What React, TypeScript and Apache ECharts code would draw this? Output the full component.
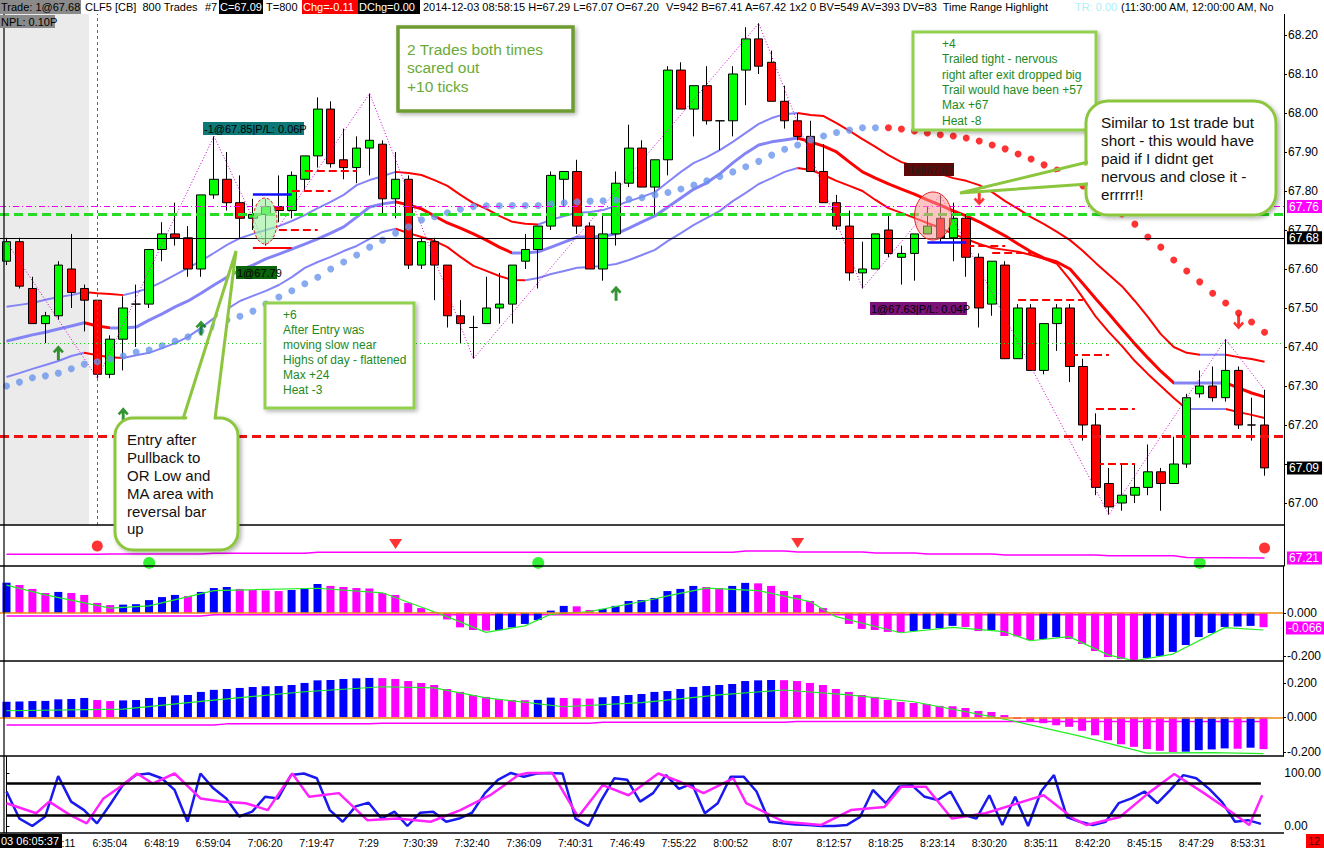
import React, { useEffect, useRef } from "react";
import * as echarts from "echarts";

// ---------------- DATA ----------------
const OPEN = [67.62,67.67,67.55,67.46,67.48,67.60,67.55,67.52,67.33,67.42,
 67.51,67.51,67.65,67.69,67.68,67.60,67.79,67.83,67.77,67.73,
 67.74,67.76,67.75,67.83,67.89,68.01,67.88,67.86,67.91,67.92,
 67.78,67.83,67.61,67.67,67.61,67.48,67.45,67.46,67.50,67.51,
 67.62,67.65,67.71,67.83,67.85,67.71,67.60,67.69,67.82,67.91,
 67.81,67.88,68.11,68.01,68.07,67.98,67.98,68.11,68.19,68.13,
 68.03,67.98,67.94,67.85,67.77,67.71,67.59,67.60,67.70,67.63,
 67.64,67.69,67.73,67.68,67.73,67.63,67.51,67.61,67.37,67.50,
 67.34,67.46,67.50,67.35,67.20,67.05,67.00,67.02,67.04,67.08,
 67.05,67.10,67.28,67.30,67.27,67.34,67.20,67.20];
const CLOSE = [67.67,67.556,67.46,67.48,67.61,67.54,67.52,67.33,67.42,67.50,
 67.51,67.65,67.69,67.68,67.60,67.79,67.83,67.77,67.73,67.74,
 67.76,67.75,67.84,67.89,68.01,67.87,67.86,67.91,67.93,67.78,
 67.83,67.61,67.67,67.61,67.48,67.46,67.45,67.50,67.51,67.61,
 67.65,67.71,67.84,67.85,67.71,67.60,67.69,67.82,67.91,67.81,
 67.88,68.11,68.01,68.07,67.98,67.98,68.10,68.19,68.12,68.03,
 67.98,67.94,67.85,67.77,67.71,67.59,67.60,67.69,67.64,67.64,
 67.69,67.71,67.68,67.73,67.63,67.50,67.62,67.37,67.50,67.34,
 67.46,67.50,67.35,67.20,67.04,66.99,67.02,67.04,67.08,67.05,
 67.10,67.27,67.30,67.27,67.34,67.20,67.20,67.09];
const HIGH = [67.68,67.68,67.58,67.49,67.62,67.69,67.56,67.52,67.43,67.53,
 67.56,67.65,67.72,67.77,67.71,67.79,67.94,67.90,67.84,67.78,
 67.78,67.84,67.85,67.89,68.04,68.03,67.96,67.94,68.05,67.93,
 67.90,67.84,67.68,67.68,67.61,67.52,67.48,67.58,67.59,67.61,
 67.69,67.71,67.85,67.85,67.88,67.72,67.74,67.85,67.97,67.93,
 67.88,68.12,68.13,68.07,68.12,67.98,68.12,68.22,68.23,68.16,
 68.07,68.00,67.98,67.92,67.79,67.75,67.67,67.69,67.74,67.66,
 67.69,67.76,67.79,67.77,67.74,67.64,67.62,67.62,67.51,67.51,
 67.46,67.51,67.51,67.37,67.23,67.09,67.10,67.10,67.15,67.09,
 67.17,67.28,67.34,67.35,67.42,67.35,67.27,67.29];
const LOW = [67.61,67.55,67.46,67.41,67.47,67.50,67.44,67.32,67.32,67.34,
 67.40,67.50,67.62,67.66,67.58,67.58,67.78,67.75,67.68,67.70,
 67.66,67.72,67.73,67.80,67.86,67.86,67.83,67.82,67.84,67.74,
 67.73,67.60,67.60,67.52,67.45,67.41,67.37,67.46,67.46,67.46,
 67.60,67.55,67.70,67.76,67.69,67.60,67.57,67.66,67.81,67.81,
 67.74,67.84,68.01,67.94,67.97,67.905,67.94,68.02,68.10,68.03,
 67.96,67.93,67.85,67.77,67.70,67.57,67.55,67.60,67.63,67.56,
 67.57,67.69,67.67,67.62,67.58,67.45,67.48,67.37,67.37,67.34,
 67.33,67.39,67.31,67.16,67.02,66.97,66.98,67.00,67.02,66.98,
 67.05,67.09,67.27,67.26,67.26,67.19,67.16,67.07];

const BAND_UPPER = [67.503,67.508,67.513,67.521,67.528,67.533,67.541,67.538,67.536,67.533,
 67.541,67.551,67.567,67.585,67.603,67.621,67.641,67.662,67.679,67.690,
 67.700,67.710,67.723,67.738,67.756,67.772,67.790,67.815,67.828,67.838,
 67.849,67.846,67.841,67.828,67.813,67.790,67.769,67.754,67.736,67.721,
 67.716,67.714,67.726,67.736,67.744,67.746,67.751,67.762,67.774,67.785,
 67.797,67.823,67.849,67.872,67.887,67.905,67.926,67.949,67.972,67.987,
 67.997,68.000,67.995,67.992,67.974,67.954,67.933,67.913,67.892,67.874,
 67.864,67.856,67.844,67.833,67.826,67.815,67.797,67.774,67.754,67.733,
 67.715,67.695,67.674,67.646,67.615,67.585,67.556,67.518,67.477,67.433,
 67.400,67.385,67.380,67.380,67.380,67.374,67.369,67.362];
const BAND_MID = [67.415,67.423,67.431,67.438,67.446,67.454,67.462,67.454,67.449,67.449,
 67.451,67.469,67.485,67.503,67.518,67.538,67.559,67.579,67.597,67.610,
 67.626,67.638,67.651,67.664,67.677,67.692,67.708,67.733,67.759,67.767,
 67.772,67.764,67.754,67.736,67.718,67.705,67.690,67.674,67.656,67.641,
 67.641,67.644,67.656,67.669,67.682,67.682,67.684,67.690,67.705,67.721,
 67.736,67.759,67.782,67.805,67.821,67.844,67.872,67.897,67.918,67.926,
 67.931,67.936,67.926,67.915,67.900,67.874,67.849,67.833,67.818,67.805,
 67.792,67.777,67.764,67.749,67.736,67.721,67.703,67.685,67.664,67.644,
 67.628,67.618,67.600,67.562,67.523,67.485,67.446,67.408,67.372,67.338,
 67.308,67.308,67.308,67.308,67.308,67.295,67.282,67.272];
const BAND_LOW = [67.323,67.333,67.344,67.354,67.364,67.377,67.385,67.379,67.374,67.372,
 67.379,67.385,67.397,67.410,67.426,67.449,67.474,67.497,67.518,67.531,
 67.544,67.559,67.579,67.603,67.618,67.631,67.646,67.659,67.677,67.695,
 67.703,67.692,67.682,67.672,67.656,67.631,67.608,67.595,67.582,67.572,
 67.571,67.577,67.587,67.595,67.603,67.605,67.608,67.613,67.623,67.636,
 67.649,67.672,67.692,67.713,67.731,67.749,67.774,67.795,67.818,67.833,
 67.849,67.859,67.854,67.841,67.826,67.813,67.800,67.777,67.756,67.744,
 67.731,67.718,67.705,67.690,67.677,67.664,67.654,67.649,67.644,67.636,
 67.626,67.613,67.572,67.526,67.477,67.438,67.403,67.364,67.331,67.300,
 67.269,67.241,67.241,67.241,67.241,67.233,67.226,67.218];

const SAR = [67.300,67.310,67.321,67.326,67.333,67.344,67.356,67.362,67.369,67.377,
 67.387,67.392,67.403,67.415,67.426,67.441,67.451,67.469,67.479,67.492,
 67.510,67.528,67.544,67.562,67.579,67.600,67.618,67.636,67.656,67.674,
 67.692,67.708,67.726,67.734,67.744,67.753,67.760,67.762,67.762,67.763,
 67.763,67.763,67.767,67.770,67.772,67.774,67.775,67.777,67.779,67.783,
 67.790,67.796,67.805,67.815,67.826,67.837,67.849,67.862,67.876,67.892,
 67.907,67.918,67.931,67.941,67.950,67.956,67.962,67.962,67.962,67.959,
 67.954,67.949,67.944,67.941,67.936,67.928,67.918,67.908,67.895,67.882,
 67.867,67.854,67.833,67.813,67.790,67.767,67.741,67.715,67.682,67.656,
 67.623,67.595,67.567,67.538,67.513,67.487,67.464,67.438];
const SAR_FLIP = 68;

const ZIGZAG = [[0,67.67],[7,67.32],[16,67.94],[20,67.66],[28,68.05],[36,67.37],[58,68.23],[66,67.55],[72,67.79],[85,66.97],[94,67.42],[97,67.29]];
const SWING_HIGH_LABELS = [[16,67.975,"HH"],[28,68.085,"HH"],[58,68.256,"HH"],[72,67.82,"LH"],[94,67.449,"LH"]];
const SWING_LOW_LABELS = [[7,67.277,"HL"],[22,67.682,"HL"],[36,67.341,"LL"],[66,67.51,"HL"]];
const ARROWS_UP = [[4,67.385],[9,67.226],[15,67.449],[47,67.538]];
const ARROWS_DOWN = [[75,67.782],[95,67.464]];

const LEVEL_LAST_TRADE = 67.68;
const LEVEL_OR_HIGH = 67.741;
const LEVEL_MAGENTA = 67.764;
const LEVEL_OR_LOW = 67.167;
const LEVEL_DOTTED = 67.41;
const TARGETS = [[23,27,67.851],[22,25,67.800],[21,24,67.700],[74,77,67.659],[76,79,67.641],[78,83,67.521],[82,85,67.379],[84,87,67.241],[84,87,67.100]];
const STOPS = [[19,22,67.654]];
const ENTRIES = [[19,22,67.792],[71,74,67.669]];

const PRICE_TICKS = [67.0,67.1,67.2,67.3,67.4,67.5,67.6,67.7,67.8,67.9,68.0,68.1,68.2];
const PRICE_LABELS = [67.0,67.2,67.3,67.4,67.5,67.6,67.7,67.8,67.9,68.0,68.1,68.2];
const TIME_TICKS = ["6:21:11","6:35:04","6:48:19","6:59:04","7:06:20","7:19:47","7:29","7:30:39","7:32:40","7:36:09","7:40:31","7:46:49","7:55:22","8:00:52","8:07","8:12:57","8:18:25","8:23:14","8:30:20","8:35:11","8:42:20","8:45:15","8:47:29","8:53:31"];

const P2_LINE = [[0,67.53],[7,67.53],[8,67.56],[15,67.56],[16,67.62],[23,67.62],[24,67.71],[56,67.71],[57,67.82],[60,67.82],[61,67.74],[66,67.74],[67,67.65],[70,67.65],[71,67.56],[76,67.56],[77,67.47],[84,67.47],[85,67.39],[90,67.39],[91,67.25],[97,67.21]];
const P2_LAST = 67.21;
const P2_SELL_DOTS = [[7,68.26],[97,68.09]];
const P2_DOWN_MARKS = [[30,68.44],[61,68.53]];
const P2_BUY_DOTS = [[11,66.77],[41,66.77],[92,66.77]];

const P3_HIST = [0.141,0.130,0.112,0.093,0.098,0.093,0.084,0.047,0.037,0.039,
 0.041,0.060,0.074,0.084,0.079,0.098,0.116,0.121,0.112,0.107,
 0.105,0.102,0.107,0.116,0.135,0.126,0.121,0.116,0.114,0.093,
 0.084,0.047,0.023,0.005,-0.030,-0.067,-0.079,-0.082,-0.080,-0.067,
 -0.051,-0.033,0.011,0.033,0.031,0.014,0.019,0.033,0.056,0.060,
 0.070,0.102,0.112,0.126,0.121,0.116,0.126,0.140,0.138,0.126,
 0.102,0.084,0.056,0.023,0.005,-0.051,-0.074,-0.079,-0.088,-0.090,
 -0.084,-0.074,-0.070,-0.060,-0.065,-0.084,-0.079,-0.107,-0.109,-0.126,
 -0.121,-0.112,-0.121,-0.144,-0.177,-0.205,-0.214,-0.219,-0.209,-0.200,
 -0.181,-0.149,-0.112,-0.093,-0.065,-0.063,-0.060,-0.066];
const P3_SIGNAL = [[0,0.13],[3,0.084],[8,0.023],[11,0.033],[16,0.104],[24,0.115],[29,0.094],[32,0.028],[34,-0.017],[37,-0.09],[40,-0.06],[42,-0.006],[45,0.006],[50,0.065],[51,0.08],[54,0.116],[58,0.104],[62,0.053],[64,-0.017],[69,-0.092],[73,-0.067],[77,-0.087],[79,-0.129],[82,-0.11],[85,-0.195],[87,-0.222],[90,-0.191],[94,-0.068],[97,-0.079]];
const P3_REF = [[0,-0.014],[15,-0.014],[16,-0.008],[97,-0.008]];
const P3_LAST = -0.066;

const P4_HIST = [0.090,0.092,0.094,0.095,0.104,0.106,0.112,0.100,0.094,0.098,
 0.100,0.112,0.118,0.127,0.129,0.147,0.159,0.164,0.170,0.176,
 0.180,0.181,0.187,0.199,0.214,0.216,0.222,0.226,0.228,0.227,
 0.222,0.210,0.199,0.187,0.164,0.147,0.129,0.118,0.106,0.100,
 0.099,0.101,0.114,0.112,0.110,0.108,0.116,0.123,0.129,0.135,
 0.147,0.152,0.164,0.176,0.181,0.187,0.193,0.210,0.214,0.216,
 0.215,0.210,0.199,0.187,0.164,0.147,0.129,0.118,0.100,0.089,
 0.083,0.077,0.066,0.064,0.054,0.037,0.031,0.013,-0.010,-0.025,
 -0.034,-0.046,-0.055,-0.078,-0.104,-0.133,-0.156,-0.171,-0.184,-0.194,
 -0.201,-0.199,-0.190,-0.186,-0.180,-0.182,-0.176,-0.184];
const P4_SIGNAL = [[0,0.038],[9,0.047],[16,0.1],[23,0.148],[29,0.177],[33,0.17],[37,0.112],[43,0.061],[49,0.085],[55,0.13],[60,0.158],[65,0.13],[70,0.09],[77,-0.01],[83,-0.112],[88,-0.207],[93,-0.205],[97,-0.21]];
const P4_REF = [[0,-0.044],[16,-0.044],[17,-0.038],[28,-0.038],[29,-0.034],[45,-0.034],[46,-0.028],[60,-0.028],[61,-0.024],[97,-0.024]];

const STOCH_K = [65,14,0,18,94,46,30,5,40,77, 96,99,90,68,8,99,71,52,18,27,
 55,52,96,99,90,30,8,37,44,14, 27,0,25,27,8,14,25,62,87,100,
 93,99,100,99,14,0,49,90,87,46, 62,96,70,80,24,43,93,93,65,8,
 5,3,2,0,0,2,17,68,43,74, 77,55,49,65,21,14,58,2,55,0,
 65,96,17,8,2,8,43,52,65,43, 68,96,90,70,45,8,11,4];
const STOCH_D = [[0,43],[2.3,24],[3.3,46],[4.9,21],[6.2,5],[7.5,52],[8.8,74],[10.1,99],[11.3,80],[13,99],[15,52],[16.6,46],[18.5,43],[20.2,30],[22.1,99],[23.4,55],[25.7,62],[27.9,11],[30.2,14],[32.8,8],[35.1,30],[37.4,58],[39.6,96],[40.3,100],[42.2,100],[44.2,17],[46.1,77],[48.1,58],[50.4,99],[52,84],[53.9,62],[56.2,90],[57.2,43],[58.8,24],[60.1,8],[63,2],[65.3,30],[67.9,36],[69.2,74],[71.1,74],[73.1,14],[75.7,24],[80.2,58],[82.5,14],[83.5,2],[86.1,17],[88.3,62],[90.3,98],[92.6,62],[94.5,30],[96.1,2],[97.1,58]];
const STOCH_LEVELS = [80, 20];

// ---------------- STYLE / LAYOUT ----------------
const FONT = '"Liberation Sans", Arial, sans-serif';
const GL = -2.5;
const GR = 40;
const SLOTS = 99;
const LAV = "#8484f6";
const RED = "#ff0000";
const HBLUE = "#0000ff";
const HMAG = "#ff00ff";

function slopePieces(vals: number[], up: string, dn: string) {
  const pieces: any[] = [];
  let start = 0;
  let cur = vals[1] >= vals[0] ? up : dn;
  for (let i = 2; i < vals.length; i++) {
    const c = vals[i] >= vals[i - 1] ? up : dn;
    if (c !== cur) {
      pieces.push(pieces.length === 0 ? { gte: start, lte: i - 1, color: cur } : { gt: start, lte: i - 1, color: cur });
      start = i - 1;
      cur = c;
    }
  }
  pieces.push(pieces.length === 0 ? { gte: start, lte: vals.length - 1, color: cur } : { gt: start, lte: vals.length - 1, color: cur });
  return pieces;
}

function histData(vals: number[]) {
  return vals.map((v, i) => ({
    value: v,
    itemStyle: { color: i === 0 || v >= vals[i - 1] ? HBLUE : HMAG },
  }));
}

function seg(a: number, b: number, p: number, color: string, type: string, width: number) {
  const ls = { color, type, width };
  return [{ coord: [a, p], lineStyle: ls }, { coord: [b, p], lineStyle: ls }];
}

function hlineLabel(text: string, bg: string) {
  return {
    show: true, position: "end", formatter: text, distance: 3,
    backgroundColor: bg, color: "#fff", padding: [1, 3, 0, 2],
    fontSize: 12, fontFamily: FONT,
  };
}

const ARROW_PATH = "path://M6 0 L12 6.5 L10 8.5 L7.6 6 L7.6 16 L4.4 16 L4.4 6 L2 8.5 L0 6.5 Z";

function txt(x: number, y: number, text: string, fill: string, size = 11, extra: any = {}) {
  return {
    type: "text", x, y, z: 110,
    style: { text, fill, fontSize: size, fontFamily: FONT, verticalAlign: "middle", align: "left", ...extra },
  };
}
function box(x: number, y: number, w: number, h: number, fill: string, z = 105) {
  return { type: "rect", z, shape: { x, y, width: w, height: h }, style: { fill } };
}

function buildOption() {
  const cats = Array.from({ length: SLOTS }, (_, i) => String(i));
  const grids = [
    { left: GL, right: GR, top: 14, height: 511 },
    { left: GL, right: GR, top: 525, height: 41 },
    { left: GL, right: GR, top: 566, height: 95 },
    { left: GL, right: GR, top: 661, height: 95 },
    { left: GL, right: GR, top: 756, height: 77 },
  ];
  const xAxes: any[] = grids.map((_, gi) => ({
    type: "category", gridIndex: gi, data: cats, boundaryGap: true,
    axisLine: { show: false }, axisTick: { show: false }, splitLine: { show: false },
    axisLabel: gi === 4 ? {
      show: true, interval: 0, color: "#000", fontSize: 10.5, fontFamily: FONT, margin: 4,
      formatter: (_v: string, idx: number) => (idx >= 4 && idx <= 96 && idx % 4 === 0 ? TIME_TICKS[idx / 4 - 1] : ""),
    } : { show: false },
  }));
  xAxes.push({ type: "value", gridIndex: 4, min: -0.5, max: SLOTS - 0.5, show: false });

  const yCommon = (gi: number, min: number, max: number, ticks: number[] | null, labels: number[] | null, dec: number) => ({
    type: "value", gridIndex: gi, position: "right", min, max,
    splitLine: { show: false },
    axisLine: { show: true, lineStyle: { color: "#000", width: 1 } },
    axisTick: ticks ? { show: true, customValues: ticks, length: 3, lineStyle: { color: "#000" } } : { show: false },
    axisLabel: labels ? {
      show: true, customValues: labels, color: "#000", fontSize: 12, fontFamily: FONT, margin: 4,
      formatter: (v: number) => v.toFixed(dec),
    } : { show: false },
  });
  const yAxes = [
    yCommon(0, 66.9436, 68.2538, PRICE_TICKS, PRICE_LABELS, 2),
    yCommon(1, 66.5, 70.1, null, null, 2),
    yCommon(2, -0.2233, 0.2186, [-0.2, 0], [-0.2, 0], 3),
    yCommon(3, -0.224, 0.326, [-0.2, 0, 0.2], [-0.2, 0, 0.2], 3),
    yCommon(4, -13.2, 132, [0, 100], [0, 100], 2),
  ];

  const bandSeries = (vals: number[], width: number) => ({
    type: "line", xAxisIndex: 0, yAxisIndex: 0, data: vals, showSymbol: false, symbol: "none",
    lineStyle: { width }, z: 2, silent: true,
  });

  const series: any[] = [
    bandSeries(BAND_UPPER, 2),
    bandSeries(BAND_MID, 3),
    bandSeries(BAND_LOW, 2),
    {
      type: "candlestick", xAxisIndex: 0, yAxisIndex: 0, barWidth: 9, z: 3,
      data: OPEN.map((o, i) => [o, CLOSE[i], LOW[i], HIGH[i]]),
      itemStyle: { color: "#00ff00", color0: RED, borderColor: "#000", borderColor0: "#000", borderWidth: 1 },
      markLine: {
        symbol: ["none", "none"], silent: true, animation: false,
        label: { show: false },
        data: [
          { xAxis: 7, lineStyle: { color: "#666", type: [3, 3], width: 1 }, label: { show: false } },
          { yAxis: LEVEL_DOTTED, lineStyle: { color: "#22cc22", type: [1, 3], width: 1 }, label: { show: false } },
          { yAxis: LEVEL_LAST_TRADE, lineStyle: { color: "#000", type: "solid", width: 1 }, label: hlineLabel(LEVEL_LAST_TRADE.toFixed(2), "#000") },
          { yAxis: LEVEL_MAGENTA, lineStyle: { color: "#ee00ee", type: [6, 3, 1, 3], width: 1 }, label: hlineLabel(LEVEL_MAGENTA.toFixed(2), "#ff00ff") },
          { yAxis: LEVEL_OR_HIGH, lineStyle: { color: "#22dd22", type: [9, 5], width: 3 }, label: { show: false } },
          { yAxis: LEVEL_OR_LOW, lineStyle: { color: "#ee1111", type: [9, 5], width: 3 }, label: { show: false } },
          { yAxis: CLOSE[CLOSE.length - 1], lineStyle: { color: "rgba(0,0,0,0)", width: 0 }, label: hlineLabel(CLOSE[CLOSE.length - 1].toFixed(2), "#000") },
          ...TARGETS.map(([a, b, p]) => seg(a, b, p, RED, "dashed", 2)),
          ...STOPS.map(([a, b, p]) => seg(a, b, p, RED, "solid", 2)),
          ...ENTRIES.map(([a, b, p]) => seg(a, b, p, "#1010ff", "solid", 2.5)),
        ],
      },
    },
    {
      type: "scatter", xAxisIndex: 0, yAxisIndex: 0, z: 4, symbolSize: 7, silent: true,
      data: SAR.map((v, i) => [i, v]).filter((d) => d[0] < SAR_FLIP),
      itemStyle: { color: "#6a95ec" },
    },
    {
      type: "scatter", xAxisIndex: 0, yAxisIndex: 0, z: 4, symbolSize: 7, silent: true,
      data: SAR.map((v, i) => [i, v]).filter((d) => d[0] >= SAR_FLIP),
      itemStyle: { color: RED },
    },
    {
      type: "line", xAxisIndex: 0, yAxisIndex: 0, z: 4, data: ZIGZAG, showSymbol: false, symbol: "none", silent: true,
      lineStyle: { color: "#d000d0", width: 1, type: [1, 2] },
    },
    {
      type: "scatter", xAxisIndex: 0, yAxisIndex: 0, z: 6, clip: false, symbolSize: 1, silent: true,
      itemStyle: { opacity: 0 },
      data: SWING_HIGH_LABELS.map(([i, p, t]) => ({ value: [i, p], name: t })),
      label: { show: true, position: "inside", formatter: "{b}", color: "#33ff22", fontSize: 12, fontFamily: FONT },
    },
    {
      type: "scatter", xAxisIndex: 0, yAxisIndex: 0, z: 6, clip: false, symbolSize: 1, silent: true,
      itemStyle: { opacity: 0 },
      data: SWING_LOW_LABELS.map(([i, p, t]) => ({ value: [i, p], name: t })),
      label: { show: true, position: "inside", formatter: "{b}", color: RED, fontSize: 12, fontFamily: FONT },
    },
    {
      type: "scatter", xAxisIndex: 0, yAxisIndex: 0, z: 5, symbol: ARROW_PATH, symbolSize: [11, 15], silent: true,
      data: ARROWS_UP, itemStyle: { color: "#007a00" },
    },
    {
      type: "scatter", xAxisIndex: 0, yAxisIndex: 0, z: 5, symbol: ARROW_PATH, symbolSize: [11, 15], symbolRotate: 180, silent: true,
      data: ARROWS_DOWN, itemStyle: { color: RED },
    },
    // panel 2
    {
      type: "line", xAxisIndex: 1, yAxisIndex: 1, data: P2_LINE, showSymbol: false, symbol: "none", silent: true,
      lineStyle: { color: "#ff00ff", width: 1.5 },
      markLine: {
        symbol: ["none", "none"], silent: true,
        data: [{ yAxis: P2_LAST, lineStyle: { color: "rgba(0,0,0,0)", width: 0 }, label: hlineLabel(P2_LAST.toFixed(2), "#ff00ff") }],
      },
    },
    { type: "scatter", xAxisIndex: 1, yAxisIndex: 1, data: P2_SELL_DOTS, symbolSize: 11, itemStyle: { color: RED }, silent: true },
    { type: "scatter", xAxisIndex: 1, yAxisIndex: 1, data: P2_DOWN_MARKS, symbol: "triangle", symbolRotate: 180, symbolSize: [13, 10], itemStyle: { color: RED }, silent: true },
    { type: "scatter", xAxisIndex: 1, yAxisIndex: 1, data: P2_BUY_DOTS, symbolSize: 12, itemStyle: { color: "#00ee00" }, clip: true, silent: true },
    // panel 3
    {
      type: "bar", xAxisIndex: 2, yAxisIndex: 2, barWidth: 8, data: histData(P3_HIST), silent: true,
      markLine: {
        symbol: ["none", "none"], silent: true,
        data: [
          { yAxis: 0, lineStyle: { color: "#ee8a10", type: "solid", width: 1.5 }, label: { show: false } },
          { yAxis: P3_LAST, lineStyle: { color: "rgba(0,0,0,0)", width: 0 }, label: hlineLabel(P3_LAST.toFixed(3), "#ff00ff") },
        ],
      },
    },
    { type: "line", xAxisIndex: 2, yAxisIndex: 2, data: P3_SIGNAL, showSymbol: false, symbol: "none", silent: true, z: 4, lineStyle: { color: "#22ee22", width: 1.2 } },
    { type: "line", xAxisIndex: 2, yAxisIndex: 2, data: P3_REF, showSymbol: false, symbol: "none", silent: true, z: 1, lineStyle: { color: "#ff00ff", width: 1.5 } },
    // panel 4
    {
      type: "bar", xAxisIndex: 3, yAxisIndex: 3, barWidth: 8, data: histData(P4_HIST), silent: true,
      markLine: {
        symbol: ["none", "none"], silent: true,
        data: [{ yAxis: 0, lineStyle: { color: "#ee8a10", type: "solid", width: 1.5 }, label: { show: false } }],
      },
    },
    { type: "line", xAxisIndex: 3, yAxisIndex: 3, data: P4_SIGNAL, showSymbol: false, symbol: "none", silent: true, z: 4, lineStyle: { color: "#22ee22", width: 1.2 } },
    { type: "line", xAxisIndex: 3, yAxisIndex: 3, data: P4_REF, showSymbol: false, symbol: "none", silent: true, z: 1, lineStyle: { color: "#ff00ff", width: 1.5 } },
    // panel 5
    {
      type: "line", xAxisIndex: 5, yAxisIndex: 4, data: STOCH_K.map((v, i) => [i, v]), showSymbol: false, symbol: "none", silent: true,
      lineStyle: { color: "#1a1aee", width: 2.5 },
      markLine: {
        symbol: ["none", "none"], silent: true,
        data: STOCH_LEVELS.map((l) => [
          { coord: [0, l], lineStyle: { color: "#000", type: "solid", width: 2.5 } },
          { coord: [97, l], lineStyle: { color: "#000", type: "solid", width: 2.5 } },
        ]),
        label: { show: false },
      },
    },
    {
      type: "line", xAxisIndex: 5, yAxisIndex: 4, data: STOCH_D, showSymbol: false, symbol: "none", silent: true,
      lineStyle: { color: "#ff22ff", width: 2.5 },
    },
  ];

  const visualMap = [
    { type: "piecewise", show: false, dimension: 0, seriesIndex: 0, pieces: slopePieces(BAND_UPPER, LAV, RED) },
    { type: "piecewise", show: false, dimension: 0, seriesIndex: 1, pieces: slopePieces(BAND_MID, LAV, RED) },
    { type: "piecewise", show: false, dimension: 0, seriesIndex: 2, pieces: slopePieces(BAND_LOW, LAV, RED) },
  ];

  const CALLOUT = "#8cc63e";
  const shadow = { shadowBlur: 4, shadowOffsetX: 2, shadowOffsetY: 2, shadowColor: "rgba(0,0,0,0.3)" };
  const graphics: any[] = [
    // time range highlight
    { type: "rect", z: 0, shape: { x: 0, y: 14, width: 89, height: 511 }, style: { fill: "#ebebeb" } },
    // panel frame lines
    ...[525, 566, 661, 756, 833].map((y) => ({ type: "line", z: 90, shape: { x1: 0, y1: y, x2: 1284, y2: y }, style: { stroke: "#000", lineWidth: 1.5 } })),
    { type: "line", z: 90, shape: { x1: 4, y1: 14, x2: 4, y2: 833 }, style: { stroke: "#000", lineWidth: 1.2 } },
    // ellipses around entries
    { type: "ellipse", z: 60, shape: { cx: 265, cy: 221, rx: 12, ry: 23 }, style: { fill: "rgba(160,240,160,0.65)", stroke: "#e02020", lineWidth: 1, lineDash: [3, 2] } },
    { type: "ellipse", z: 60, shape: { cx: 933, cy: 216, rx: 18.5, ry: 24 }, style: { fill: "rgba(255,150,150,0.55)", stroke: "#e02020", lineWidth: 1 } },
    // trade labels
    box(203, 122, 101, 13, "#0e7878"), txt(204, 128.5, "-1@67.85|P/L: 0.06P", "#000", 11),
    box(236, 266, 41, 13, "#0a640a"), txt(237, 272.5, "1@67.79", "#000", 11),
    box(904, 163, 50, 13, "#5e0808"), txt(905, 169.5, "-1@67.67", "#222", 11),
    box(870, 302, 97, 13, "#7a127a"), txt(871, 308.5, "1@67.63|P/L: 0.04P", "#000", 11),
    // text box 1
    { type: "rect", z: 100, shape: { x: 398, y: 27, width: 175, height: 84 }, style: { fill: "#fff", stroke: "#6e9c32", lineWidth: 3.5, ...shadow } },
    { type: "text", z: 110, x: 407, y: 40, style: { text: "2 Trades both times\nscared out\n+10 ticks", fill: "#6aaa38", fontSize: 15.5, fontFamily: FONT, lineHeight: 18.5, verticalAlign: "top", align: "left" } },
    // text box 2
    { type: "rect", z: 100, shape: { x: 913, y: 32, width: 183, height: 98 }, style: { fill: "#fff", stroke: "#92d050", lineWidth: 3, ...shadow } },
    { type: "text", z: 110, x: 942, y: 36.5, style: { text: "+4\nTrailed tight - nervous\nright after exit dropped big\nTrail would have been +57\nMax +67\nHeat -8", fill: "#1e8a1e", fontSize: 12, fontFamily: FONT, lineHeight: 15.3, verticalAlign: "top", align: "left" } },
    // text box 3
    { type: "rect", z: 100, shape: { x: 265, y: 303, width: 149, height: 105 }, style: { fill: "#fff", stroke: "#92d050", lineWidth: 3, ...shadow } },
    { type: "text", z: 110, x: 283, y: 307.5, style: { text: "+6\nAfter Entry was\nmoving slow near\nHighs of day - flattened\nMax +24\nHeat -3", fill: "#1e8a1e", fontSize: 12, fontFamily: FONT, lineHeight: 15, verticalAlign: "top", align: "left" } },
    // callout 1
    { type: "rect", z: 100, shape: { x: 115, y: 418, width: 123, height: 132, r: 18 }, style: { fill: "#fff", stroke: CALLOUT, lineWidth: 3, ...shadow } },
    { type: "polygon", z: 101, shape: { points: [[185, 425], [236, 254], [213, 425]] }, style: { fill: "#fff" } },
    { type: "polyline", z: 102, shape: { points: [[183, 419], [236, 251], [215, 419]] }, style: { stroke: CALLOUT, lineWidth: 3, fill: null } },
    { type: "text", z: 110, x: 127, y: 431, style: { text: "Entry after\nPullback to\nOR Low and\nMA area with\nreversal bar\nup", fill: "#111", fontSize: 15, fontFamily: FONT, lineHeight: 17.8, verticalAlign: "top", align: "left" } },
    // callout 2
    { type: "rect", z: 100, shape: { x: 1086, y: 101, width: 190, height: 114, r: 22 }, style: { fill: "#fff", stroke: CALLOUT, lineWidth: 3, ...shadow } },
    { type: "polygon", z: 101, shape: { points: [[1093, 164], [964, 193], [1093, 182]] }, style: { fill: "#fff" } },
    { type: "polyline", z: 102, shape: { points: [[1088, 162], [960, 193], [1088, 184]] }, style: { stroke: CALLOUT, lineWidth: 3, fill: null } },
    { type: "text", z: 110, x: 1101, y: 113, style: { text: "Similar to 1st trade but\nshort - this would have\npaid if I didnt get\nnervous and close it -\nerrrrr!!", fill: "#111", fontSize: 15.3, fontFamily: FONT, lineHeight: 18, verticalAlign: "top", align: "left" } },
    // header
    { type: "rect", z: 104, shape: { x: 0, y: 0, width: 1324, height: 14 }, style: { fill: "#fff" } },
    box(0, 0, 81, 14, "#8a8a8a"), txt(1, 7, "Trade: 1@67.68", "#000"),
    txt(85, 7, "CLF5 [CB]  800 Trades", "#000"),
    txt(205, 7, "#7", "#000"),
    box(219, 0, 44, 14, "#000"), txt(220, 7, "C=67.09", "#fff"),
    txt(266, 7, "T=800", "#000"),
    box(302, 0, 56, 14, "#ff0000"), txt(303, 7, "Chg=-0.11", "#fff"),
    box(358, 0, 62, 14, "#000"), txt(359, 7, "DChg=0.00", "#fff"),
    txt(423, 7, "2014-12-03 08:58:15 H=67.29 L=67.07 O=67.20", "#000"),
    txt(666, 7, "V=942 B=67.41 A=67.42 1x2 0 BV=549 AV=393 DV=83  Time Range Highlight", "#000"),
    txt(1075, 7, "TR: 0.00", "#aeeef8"),
    txt(1121, 7, "(11:30:00 AM, 12:00:00 AM, No", "#000"),
    { type: "rect", z: 112, shape: { x: 1285, y: 0, width: 39, height: 14 }, style: { fill: "#fff" } },
    box(0, 15, 55, 13, "#8a8a8a"), txt(1, 21.5, "NPL: 0.10P", "#000"),
    // bottom corners
    box(0, 834, 62, 14, "#000", 115), { ...txt(1, 841, "03 06:05:37", "#fff", 11), z: 116 },
    box(1306, 834, 18, 14, "#ff0000", 115), { ...txt(1308, 841, "12", "#500000", 11), z: 116 },
  ];

  return {
    animation: false,
    backgroundColor: "#fff",
    textStyle: { fontFamily: FONT },
    grid: grids,
    xAxis: xAxes,
    yAxis: yAxes,
    visualMap,
    series,
    graphic: { elements: graphics },
  };
}

export default function App() {
  const ref = useRef<HTMLDivElement>(null);
  useEffect(() => {
    if (!ref.current) return;
    const chart = echarts.init(ref.current, null, { renderer: "svg" });
    chart.setOption(buildOption() as any);
    return () => chart.dispose();
  }, []);
  return <div ref={ref} style={{ position: "absolute", left: 0, top: 0, width: 1324, height: 848 }} />;
}
